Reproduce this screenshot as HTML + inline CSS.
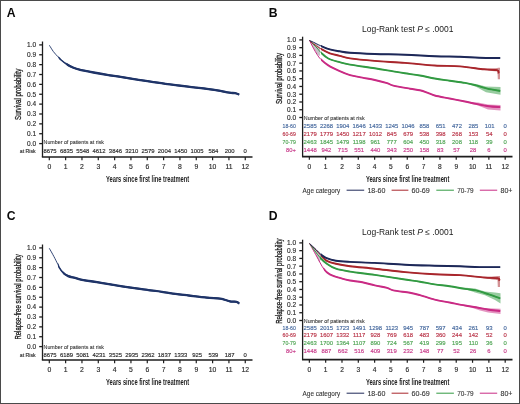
<!DOCTYPE html><html><head><meta charset="utf-8"><style>html,body{margin:0;padding:0;background:#fff;}svg{display:block;will-change:transform;}</style></head><body>
<svg width="520" height="404" viewBox="0 0 520 404" font-family='&quot;Liberation Sans&quot;, sans-serif'>
<rect x="0" y="0" width="520" height="404" fill="#fff"/>
<text x="6.80" y="16.90" font-size="12.20" fill="#0a0a0a" font-weight="bold">A</text>
<line x1="42.50" y1="41.50" x2="42.50" y2="157.00" stroke="#1e1e1e" stroke-width="1.3"/>
<line x1="41.85" y1="157.00" x2="252.50" y2="157.00" stroke="#1e1e1e" stroke-width="1.7"/>
<line x1="39.20" y1="44.90" x2="42.50" y2="44.90" stroke="#1e1e1e" stroke-width="1.3"/>
<text x="36.10" y="47.23" font-size="6.50" fill="#2a2a2a" stroke="#2a2a2a" stroke-width="0.15" text-anchor="end">1.0</text>
<line x1="39.20" y1="54.77" x2="42.50" y2="54.77" stroke="#1e1e1e" stroke-width="1.3"/>
<text x="36.10" y="57.10" font-size="6.50" fill="#2a2a2a" stroke="#2a2a2a" stroke-width="0.15" text-anchor="end">0.9</text>
<line x1="39.20" y1="64.64" x2="42.50" y2="64.64" stroke="#1e1e1e" stroke-width="1.3"/>
<text x="36.10" y="66.97" font-size="6.50" fill="#2a2a2a" stroke="#2a2a2a" stroke-width="0.15" text-anchor="end">0.8</text>
<line x1="39.20" y1="74.51" x2="42.50" y2="74.51" stroke="#1e1e1e" stroke-width="1.3"/>
<text x="36.10" y="76.84" font-size="6.50" fill="#2a2a2a" stroke="#2a2a2a" stroke-width="0.15" text-anchor="end">0.7</text>
<line x1="39.20" y1="84.38" x2="42.50" y2="84.38" stroke="#1e1e1e" stroke-width="1.3"/>
<text x="36.10" y="86.71" font-size="6.50" fill="#2a2a2a" stroke="#2a2a2a" stroke-width="0.15" text-anchor="end">0.6</text>
<line x1="39.20" y1="94.25" x2="42.50" y2="94.25" stroke="#1e1e1e" stroke-width="1.3"/>
<text x="36.10" y="96.58" font-size="6.50" fill="#2a2a2a" stroke="#2a2a2a" stroke-width="0.15" text-anchor="end">0.5</text>
<line x1="39.20" y1="104.12" x2="42.50" y2="104.12" stroke="#1e1e1e" stroke-width="1.3"/>
<text x="36.10" y="106.45" font-size="6.50" fill="#2a2a2a" stroke="#2a2a2a" stroke-width="0.15" text-anchor="end">0.4</text>
<line x1="39.20" y1="113.99" x2="42.50" y2="113.99" stroke="#1e1e1e" stroke-width="1.3"/>
<text x="36.10" y="116.32" font-size="6.50" fill="#2a2a2a" stroke="#2a2a2a" stroke-width="0.15" text-anchor="end">0.3</text>
<line x1="39.20" y1="123.86" x2="42.50" y2="123.86" stroke="#1e1e1e" stroke-width="1.3"/>
<text x="36.10" y="126.19" font-size="6.50" fill="#2a2a2a" stroke="#2a2a2a" stroke-width="0.15" text-anchor="end">0.2</text>
<line x1="39.20" y1="133.73" x2="42.50" y2="133.73" stroke="#1e1e1e" stroke-width="1.3"/>
<text x="36.10" y="136.06" font-size="6.50" fill="#2a2a2a" stroke="#2a2a2a" stroke-width="0.15" text-anchor="end">0.1</text>
<line x1="39.20" y1="143.60" x2="42.50" y2="143.60" stroke="#1e1e1e" stroke-width="1.3"/>
<text x="36.10" y="145.93" font-size="6.50" fill="#2a2a2a" stroke="#2a2a2a" stroke-width="0.15" text-anchor="end">0.0</text>
<line x1="49.30" y1="157.00" x2="49.30" y2="160.20" stroke="#1e1e1e" stroke-width="1.2"/>
<text x="49.30" y="168.73" font-size="6.80" fill="#2a2a2a" stroke="#2a2a2a" stroke-width="0.15" text-anchor="middle">0</text>
<line x1="65.63" y1="157.00" x2="65.63" y2="160.20" stroke="#1e1e1e" stroke-width="1.2"/>
<text x="65.63" y="168.73" font-size="6.80" fill="#2a2a2a" stroke="#2a2a2a" stroke-width="0.15" text-anchor="middle">1</text>
<line x1="81.96" y1="157.00" x2="81.96" y2="160.20" stroke="#1e1e1e" stroke-width="1.2"/>
<text x="81.96" y="168.73" font-size="6.80" fill="#2a2a2a" stroke="#2a2a2a" stroke-width="0.15" text-anchor="middle">2</text>
<line x1="98.29" y1="157.00" x2="98.29" y2="160.20" stroke="#1e1e1e" stroke-width="1.2"/>
<text x="98.29" y="168.73" font-size="6.80" fill="#2a2a2a" stroke="#2a2a2a" stroke-width="0.15" text-anchor="middle">3</text>
<line x1="114.62" y1="157.00" x2="114.62" y2="160.20" stroke="#1e1e1e" stroke-width="1.2"/>
<text x="114.62" y="168.73" font-size="6.80" fill="#2a2a2a" stroke="#2a2a2a" stroke-width="0.15" text-anchor="middle">4</text>
<line x1="130.95" y1="157.00" x2="130.95" y2="160.20" stroke="#1e1e1e" stroke-width="1.2"/>
<text x="130.95" y="168.73" font-size="6.80" fill="#2a2a2a" stroke="#2a2a2a" stroke-width="0.15" text-anchor="middle">5</text>
<line x1="147.28" y1="157.00" x2="147.28" y2="160.20" stroke="#1e1e1e" stroke-width="1.2"/>
<text x="147.28" y="168.73" font-size="6.80" fill="#2a2a2a" stroke="#2a2a2a" stroke-width="0.15" text-anchor="middle">6</text>
<line x1="163.61" y1="157.00" x2="163.61" y2="160.20" stroke="#1e1e1e" stroke-width="1.2"/>
<text x="163.61" y="168.73" font-size="6.80" fill="#2a2a2a" stroke="#2a2a2a" stroke-width="0.15" text-anchor="middle">7</text>
<line x1="179.94" y1="157.00" x2="179.94" y2="160.20" stroke="#1e1e1e" stroke-width="1.2"/>
<text x="179.94" y="168.73" font-size="6.80" fill="#2a2a2a" stroke="#2a2a2a" stroke-width="0.15" text-anchor="middle">8</text>
<line x1="196.27" y1="157.00" x2="196.27" y2="160.20" stroke="#1e1e1e" stroke-width="1.2"/>
<text x="196.27" y="168.73" font-size="6.80" fill="#2a2a2a" stroke="#2a2a2a" stroke-width="0.15" text-anchor="middle">9</text>
<line x1="212.60" y1="157.00" x2="212.60" y2="160.20" stroke="#1e1e1e" stroke-width="1.2"/>
<text x="212.60" y="168.73" font-size="6.80" fill="#2a2a2a" stroke="#2a2a2a" stroke-width="0.15" text-anchor="middle">10</text>
<line x1="228.93" y1="157.00" x2="228.93" y2="160.20" stroke="#1e1e1e" stroke-width="1.2"/>
<text x="228.93" y="168.73" font-size="6.80" fill="#2a2a2a" stroke="#2a2a2a" stroke-width="0.15" text-anchor="middle">11</text>
<line x1="245.26" y1="157.00" x2="245.26" y2="160.20" stroke="#1e1e1e" stroke-width="1.2"/>
<text x="245.26" y="168.73" font-size="6.80" fill="#2a2a2a" stroke="#2a2a2a" stroke-width="0.15" text-anchor="middle">12</text>
<text x="106.00" y="181.50" font-size="9.10" fill="#222" font-weight="bold" textLength="83.20" lengthAdjust="spacingAndGlyphs">Years since first line treatment</text>
<text transform="translate(21.40,119.90) rotate(-90)" font-size="9.2" fill="#1a1a1a" stroke="#1a1a1a" stroke-width="0.3" textLength="51.20" lengthAdjust="spacingAndGlyphs">Survival probability</text>
<text x="43.60" y="144.00" font-size="6.00" fill="#333" stroke="#333" stroke-width="0.10" textLength="60.40" lengthAdjust="spacingAndGlyphs">Number of patients at risk</text>
<text x="35.70" y="152.70" font-size="5.60" fill="#2a2a2a" stroke="#2a2a2a" stroke-width="0.15" text-anchor="end" textLength="15.90" lengthAdjust="spacingAndGlyphs">at Risk</text>
<text x="50.10" y="152.70" font-size="5.90" fill="#2a2a2a" stroke="#2a2a2a" stroke-width="0.15" text-anchor="middle">8675</text>
<text x="66.43" y="152.70" font-size="5.90" fill="#2a2a2a" stroke="#2a2a2a" stroke-width="0.15" text-anchor="middle">6835</text>
<text x="82.76" y="152.70" font-size="5.90" fill="#2a2a2a" stroke="#2a2a2a" stroke-width="0.15" text-anchor="middle">5548</text>
<text x="99.09" y="152.70" font-size="5.90" fill="#2a2a2a" stroke="#2a2a2a" stroke-width="0.15" text-anchor="middle">4612</text>
<text x="115.42" y="152.70" font-size="5.90" fill="#2a2a2a" stroke="#2a2a2a" stroke-width="0.15" text-anchor="middle">3846</text>
<text x="131.75" y="152.70" font-size="5.90" fill="#2a2a2a" stroke="#2a2a2a" stroke-width="0.15" text-anchor="middle">3210</text>
<text x="148.08" y="152.70" font-size="5.90" fill="#2a2a2a" stroke="#2a2a2a" stroke-width="0.15" text-anchor="middle">2579</text>
<text x="164.41" y="152.70" font-size="5.90" fill="#2a2a2a" stroke="#2a2a2a" stroke-width="0.15" text-anchor="middle">2004</text>
<text x="180.74" y="152.70" font-size="5.90" fill="#2a2a2a" stroke="#2a2a2a" stroke-width="0.15" text-anchor="middle">1450</text>
<text x="197.07" y="152.70" font-size="5.90" fill="#2a2a2a" stroke="#2a2a2a" stroke-width="0.15" text-anchor="middle">1005</text>
<text x="213.40" y="152.70" font-size="5.90" fill="#2a2a2a" stroke="#2a2a2a" stroke-width="0.15" text-anchor="middle">584</text>
<text x="229.73" y="152.70" font-size="5.90" fill="#2a2a2a" stroke="#2a2a2a" stroke-width="0.15" text-anchor="middle">200</text>
<text x="245.26" y="152.70" font-size="5.90" fill="#2a2a2a" stroke="#2a2a2a" stroke-width="0.15" text-anchor="middle">0</text>
<clipPath id="c1"><rect x="66.70" y="0" width="520" height="404"/></clipPath>
<path d="M49.40,45.30 C50.07,46.35 51.98,49.70 53.40,51.60 C54.82,53.50 56.62,55.30 57.90,56.70 C59.18,58.10 59.63,58.75 61.10,60.00 C62.57,61.25 64.63,62.90 66.70,64.20 C68.77,65.50 71.25,66.87 73.50,67.80 C75.75,68.73 76.85,69.02 80.20,69.80 C83.55,70.58 89.12,71.65 93.60,72.50 C98.08,73.35 102.60,74.17 107.10,74.90 C111.60,75.63 115.37,76.08 120.60,76.90 C125.83,77.72 133.28,78.98 138.50,79.80 C143.72,80.62 147.42,81.13 151.90,81.80 C156.38,82.47 160.92,83.18 165.40,83.80 C169.88,84.42 174.12,84.92 178.80,85.50 C183.48,86.08 188.82,86.73 193.50,87.30 C198.18,87.87 202.42,88.30 206.90,88.90 C211.38,89.50 217.03,90.33 220.40,90.90 C223.77,91.47 225.32,91.97 227.10,92.30 C228.88,92.63 229.75,92.75 231.10,92.90 C232.45,93.05 233.85,92.93 235.20,93.20 C236.55,93.47 238.53,94.28 239.20,94.50" fill="none" stroke="#1f3468" stroke-width="0.90" stroke-linejoin="round"/>
<clipPath id="c2"><rect x="58.50" y="0" width="520" height="404"/></clipPath>
<path d="M49.40,45.30 C50.07,46.35 51.98,49.70 53.40,51.60 C54.82,53.50 56.62,55.30 57.90,56.70 C59.18,58.10 59.63,58.75 61.10,60.00 C62.57,61.25 64.63,62.90 66.70,64.20 C68.77,65.50 71.25,66.87 73.50,67.80 C75.75,68.73 76.85,69.02 80.20,69.80 C83.55,70.58 89.12,71.65 93.60,72.50 C98.08,73.35 102.60,74.17 107.10,74.90 C111.60,75.63 115.37,76.08 120.60,76.90 C125.83,77.72 133.28,78.98 138.50,79.80 C143.72,80.62 147.42,81.13 151.90,81.80 C156.38,82.47 160.92,83.18 165.40,83.80 C169.88,84.42 174.12,84.92 178.80,85.50 C183.48,86.08 188.82,86.73 193.50,87.30 C198.18,87.87 202.42,88.30 206.90,88.90 C211.38,89.50 217.03,90.33 220.40,90.90 C223.77,91.47 225.32,91.97 227.10,92.30 C228.88,92.63 229.75,92.75 231.10,92.90 C232.45,93.05 233.85,92.93 235.20,93.20 C236.55,93.47 238.53,94.28 239.20,94.50" fill="none" stroke="#1f3468" stroke-width="1.60" stroke-linejoin="round" clip-path="url(#c2)"/>
<path d="M49.40,45.30 C50.07,46.35 51.98,49.70 53.40,51.60 C54.82,53.50 56.62,55.30 57.90,56.70 C59.18,58.10 59.63,58.75 61.10,60.00 C62.57,61.25 64.63,62.90 66.70,64.20 C68.77,65.50 71.25,66.87 73.50,67.80 C75.75,68.73 76.85,69.02 80.20,69.80 C83.55,70.58 89.12,71.65 93.60,72.50 C98.08,73.35 102.60,74.17 107.10,74.90 C111.60,75.63 115.37,76.08 120.60,76.90 C125.83,77.72 133.28,78.98 138.50,79.80 C143.72,80.62 147.42,81.13 151.90,81.80 C156.38,82.47 160.92,83.18 165.40,83.80 C169.88,84.42 174.12,84.92 178.80,85.50 C183.48,86.08 188.82,86.73 193.50,87.30 C198.18,87.87 202.42,88.30 206.90,88.90 C211.38,89.50 217.03,90.33 220.40,90.90 C223.77,91.47 225.32,91.97 227.10,92.30 C228.88,92.63 229.75,92.75 231.10,92.90 C232.45,93.05 233.85,92.93 235.20,93.20 C236.55,93.47 238.53,94.28 239.20,94.50" fill="none" stroke="#1f3468" stroke-width="2.30" stroke-linejoin="round" clip-path="url(#c1)"/>
<text x="6.80" y="219.90" font-size="12.20" fill="#0a0a0a" font-weight="bold">C</text>
<line x1="42.50" y1="244.50" x2="42.50" y2="360.00" stroke="#1e1e1e" stroke-width="1.3"/>
<line x1="41.85" y1="360.00" x2="252.50" y2="360.00" stroke="#1e1e1e" stroke-width="1.7"/>
<line x1="39.20" y1="247.90" x2="42.50" y2="247.90" stroke="#1e1e1e" stroke-width="1.3"/>
<text x="36.10" y="250.23" font-size="6.50" fill="#2a2a2a" stroke="#2a2a2a" stroke-width="0.15" text-anchor="end">1.0</text>
<line x1="39.20" y1="257.77" x2="42.50" y2="257.77" stroke="#1e1e1e" stroke-width="1.3"/>
<text x="36.10" y="260.10" font-size="6.50" fill="#2a2a2a" stroke="#2a2a2a" stroke-width="0.15" text-anchor="end">0.9</text>
<line x1="39.20" y1="267.64" x2="42.50" y2="267.64" stroke="#1e1e1e" stroke-width="1.3"/>
<text x="36.10" y="269.97" font-size="6.50" fill="#2a2a2a" stroke="#2a2a2a" stroke-width="0.15" text-anchor="end">0.8</text>
<line x1="39.20" y1="277.51" x2="42.50" y2="277.51" stroke="#1e1e1e" stroke-width="1.3"/>
<text x="36.10" y="279.84" font-size="6.50" fill="#2a2a2a" stroke="#2a2a2a" stroke-width="0.15" text-anchor="end">0.7</text>
<line x1="39.20" y1="287.38" x2="42.50" y2="287.38" stroke="#1e1e1e" stroke-width="1.3"/>
<text x="36.10" y="289.71" font-size="6.50" fill="#2a2a2a" stroke="#2a2a2a" stroke-width="0.15" text-anchor="end">0.6</text>
<line x1="39.20" y1="297.25" x2="42.50" y2="297.25" stroke="#1e1e1e" stroke-width="1.3"/>
<text x="36.10" y="299.58" font-size="6.50" fill="#2a2a2a" stroke="#2a2a2a" stroke-width="0.15" text-anchor="end">0.5</text>
<line x1="39.20" y1="307.12" x2="42.50" y2="307.12" stroke="#1e1e1e" stroke-width="1.3"/>
<text x="36.10" y="309.45" font-size="6.50" fill="#2a2a2a" stroke="#2a2a2a" stroke-width="0.15" text-anchor="end">0.4</text>
<line x1="39.20" y1="316.99" x2="42.50" y2="316.99" stroke="#1e1e1e" stroke-width="1.3"/>
<text x="36.10" y="319.32" font-size="6.50" fill="#2a2a2a" stroke="#2a2a2a" stroke-width="0.15" text-anchor="end">0.3</text>
<line x1="39.20" y1="326.86" x2="42.50" y2="326.86" stroke="#1e1e1e" stroke-width="1.3"/>
<text x="36.10" y="329.19" font-size="6.50" fill="#2a2a2a" stroke="#2a2a2a" stroke-width="0.15" text-anchor="end">0.2</text>
<line x1="39.20" y1="336.73" x2="42.50" y2="336.73" stroke="#1e1e1e" stroke-width="1.3"/>
<text x="36.10" y="339.06" font-size="6.50" fill="#2a2a2a" stroke="#2a2a2a" stroke-width="0.15" text-anchor="end">0.1</text>
<line x1="39.20" y1="346.60" x2="42.50" y2="346.60" stroke="#1e1e1e" stroke-width="1.3"/>
<text x="36.10" y="348.93" font-size="6.50" fill="#2a2a2a" stroke="#2a2a2a" stroke-width="0.15" text-anchor="end">0.0</text>
<line x1="49.30" y1="360.00" x2="49.30" y2="363.20" stroke="#1e1e1e" stroke-width="1.2"/>
<text x="49.30" y="372.23" font-size="6.80" fill="#2a2a2a" stroke="#2a2a2a" stroke-width="0.15" text-anchor="middle">0</text>
<line x1="65.63" y1="360.00" x2="65.63" y2="363.20" stroke="#1e1e1e" stroke-width="1.2"/>
<text x="65.63" y="372.23" font-size="6.80" fill="#2a2a2a" stroke="#2a2a2a" stroke-width="0.15" text-anchor="middle">1</text>
<line x1="81.96" y1="360.00" x2="81.96" y2="363.20" stroke="#1e1e1e" stroke-width="1.2"/>
<text x="81.96" y="372.23" font-size="6.80" fill="#2a2a2a" stroke="#2a2a2a" stroke-width="0.15" text-anchor="middle">2</text>
<line x1="98.29" y1="360.00" x2="98.29" y2="363.20" stroke="#1e1e1e" stroke-width="1.2"/>
<text x="98.29" y="372.23" font-size="6.80" fill="#2a2a2a" stroke="#2a2a2a" stroke-width="0.15" text-anchor="middle">3</text>
<line x1="114.62" y1="360.00" x2="114.62" y2="363.20" stroke="#1e1e1e" stroke-width="1.2"/>
<text x="114.62" y="372.23" font-size="6.80" fill="#2a2a2a" stroke="#2a2a2a" stroke-width="0.15" text-anchor="middle">4</text>
<line x1="130.95" y1="360.00" x2="130.95" y2="363.20" stroke="#1e1e1e" stroke-width="1.2"/>
<text x="130.95" y="372.23" font-size="6.80" fill="#2a2a2a" stroke="#2a2a2a" stroke-width="0.15" text-anchor="middle">5</text>
<line x1="147.28" y1="360.00" x2="147.28" y2="363.20" stroke="#1e1e1e" stroke-width="1.2"/>
<text x="147.28" y="372.23" font-size="6.80" fill="#2a2a2a" stroke="#2a2a2a" stroke-width="0.15" text-anchor="middle">6</text>
<line x1="163.61" y1="360.00" x2="163.61" y2="363.20" stroke="#1e1e1e" stroke-width="1.2"/>
<text x="163.61" y="372.23" font-size="6.80" fill="#2a2a2a" stroke="#2a2a2a" stroke-width="0.15" text-anchor="middle">7</text>
<line x1="179.94" y1="360.00" x2="179.94" y2="363.20" stroke="#1e1e1e" stroke-width="1.2"/>
<text x="179.94" y="372.23" font-size="6.80" fill="#2a2a2a" stroke="#2a2a2a" stroke-width="0.15" text-anchor="middle">8</text>
<line x1="196.27" y1="360.00" x2="196.27" y2="363.20" stroke="#1e1e1e" stroke-width="1.2"/>
<text x="196.27" y="372.23" font-size="6.80" fill="#2a2a2a" stroke="#2a2a2a" stroke-width="0.15" text-anchor="middle">9</text>
<line x1="212.60" y1="360.00" x2="212.60" y2="363.20" stroke="#1e1e1e" stroke-width="1.2"/>
<text x="212.60" y="372.23" font-size="6.80" fill="#2a2a2a" stroke="#2a2a2a" stroke-width="0.15" text-anchor="middle">10</text>
<line x1="228.93" y1="360.00" x2="228.93" y2="363.20" stroke="#1e1e1e" stroke-width="1.2"/>
<text x="228.93" y="372.23" font-size="6.80" fill="#2a2a2a" stroke="#2a2a2a" stroke-width="0.15" text-anchor="middle">11</text>
<line x1="245.26" y1="360.00" x2="245.26" y2="363.20" stroke="#1e1e1e" stroke-width="1.2"/>
<text x="245.26" y="372.23" font-size="6.80" fill="#2a2a2a" stroke="#2a2a2a" stroke-width="0.15" text-anchor="middle">12</text>
<text x="106.00" y="384.50" font-size="9.10" fill="#222" font-weight="bold" textLength="83.20" lengthAdjust="spacingAndGlyphs">Years since first line treatment</text>
<text transform="translate(21.40,339.60) rotate(-90)" font-size="9.2" fill="#1a1a1a" stroke="#1a1a1a" stroke-width="0.3" textLength="85.30" lengthAdjust="spacingAndGlyphs">Relapse-free survival probability</text>
<text x="43.60" y="348.80" font-size="6.00" fill="#333" stroke="#333" stroke-width="0.10" textLength="60.40" lengthAdjust="spacingAndGlyphs">Number of patients at risk</text>
<text x="35.70" y="356.50" font-size="5.60" fill="#2a2a2a" stroke="#2a2a2a" stroke-width="0.15" text-anchor="end" textLength="15.90" lengthAdjust="spacingAndGlyphs">at Risk</text>
<text x="50.10" y="356.50" font-size="5.90" fill="#2a2a2a" stroke="#2a2a2a" stroke-width="0.15" text-anchor="middle">8675</text>
<text x="66.43" y="356.50" font-size="5.90" fill="#2a2a2a" stroke="#2a2a2a" stroke-width="0.15" text-anchor="middle">6189</text>
<text x="82.76" y="356.50" font-size="5.90" fill="#2a2a2a" stroke="#2a2a2a" stroke-width="0.15" text-anchor="middle">5081</text>
<text x="99.09" y="356.50" font-size="5.90" fill="#2a2a2a" stroke="#2a2a2a" stroke-width="0.15" text-anchor="middle">4231</text>
<text x="115.42" y="356.50" font-size="5.90" fill="#2a2a2a" stroke="#2a2a2a" stroke-width="0.15" text-anchor="middle">3525</text>
<text x="131.75" y="356.50" font-size="5.90" fill="#2a2a2a" stroke="#2a2a2a" stroke-width="0.15" text-anchor="middle">2935</text>
<text x="148.08" y="356.50" font-size="5.90" fill="#2a2a2a" stroke="#2a2a2a" stroke-width="0.15" text-anchor="middle">2362</text>
<text x="164.41" y="356.50" font-size="5.90" fill="#2a2a2a" stroke="#2a2a2a" stroke-width="0.15" text-anchor="middle">1837</text>
<text x="180.74" y="356.50" font-size="5.90" fill="#2a2a2a" stroke="#2a2a2a" stroke-width="0.15" text-anchor="middle">1333</text>
<text x="197.07" y="356.50" font-size="5.90" fill="#2a2a2a" stroke="#2a2a2a" stroke-width="0.15" text-anchor="middle">925</text>
<text x="213.40" y="356.50" font-size="5.90" fill="#2a2a2a" stroke="#2a2a2a" stroke-width="0.15" text-anchor="middle">539</text>
<text x="229.73" y="356.50" font-size="5.90" fill="#2a2a2a" stroke="#2a2a2a" stroke-width="0.15" text-anchor="middle">187</text>
<text x="245.26" y="356.50" font-size="5.90" fill="#2a2a2a" stroke="#2a2a2a" stroke-width="0.15" text-anchor="middle">0</text>
<clipPath id="c3"><rect x="62.80" y="0" width="520" height="404"/></clipPath>
<path d="M49.30,248.30 C50.07,249.67 52.47,253.80 53.90,256.50 C55.33,259.20 57.00,262.65 57.90,264.50 C58.80,266.35 58.48,266.27 59.30,267.60 C60.12,268.93 61.32,271.08 62.80,272.50 C64.28,273.92 66.17,275.20 68.20,276.10 C70.23,277.00 72.45,277.23 75.00,277.90 C77.55,278.57 79.85,279.40 83.50,280.10 C87.15,280.80 92.42,281.38 96.90,282.10 C101.38,282.82 105.92,283.65 110.40,284.40 C114.88,285.15 118.87,285.85 123.80,286.60 C128.73,287.35 135.88,288.32 140.00,288.90 C144.12,289.48 144.85,289.62 148.50,290.10 C152.15,290.58 157.42,291.17 161.90,291.80 C166.38,292.43 170.92,293.28 175.40,293.90 C179.88,294.52 183.55,294.88 188.80,295.50 C194.05,296.12 201.63,297.07 206.90,297.60 C212.17,298.13 217.03,298.22 220.40,298.70 C223.77,299.18 225.32,300.02 227.10,300.50 C228.88,300.98 229.53,301.38 231.10,301.60 C232.67,301.82 235.15,301.47 236.50,301.80 C237.85,302.13 238.75,303.30 239.20,303.60" fill="none" stroke="#1f3468" stroke-width="0.90" stroke-linejoin="round"/>
<clipPath id="c4"><rect x="58.00" y="0" width="520" height="404"/></clipPath>
<path d="M49.30,248.30 C50.07,249.67 52.47,253.80 53.90,256.50 C55.33,259.20 57.00,262.65 57.90,264.50 C58.80,266.35 58.48,266.27 59.30,267.60 C60.12,268.93 61.32,271.08 62.80,272.50 C64.28,273.92 66.17,275.20 68.20,276.10 C70.23,277.00 72.45,277.23 75.00,277.90 C77.55,278.57 79.85,279.40 83.50,280.10 C87.15,280.80 92.42,281.38 96.90,282.10 C101.38,282.82 105.92,283.65 110.40,284.40 C114.88,285.15 118.87,285.85 123.80,286.60 C128.73,287.35 135.88,288.32 140.00,288.90 C144.12,289.48 144.85,289.62 148.50,290.10 C152.15,290.58 157.42,291.17 161.90,291.80 C166.38,292.43 170.92,293.28 175.40,293.90 C179.88,294.52 183.55,294.88 188.80,295.50 C194.05,296.12 201.63,297.07 206.90,297.60 C212.17,298.13 217.03,298.22 220.40,298.70 C223.77,299.18 225.32,300.02 227.10,300.50 C228.88,300.98 229.53,301.38 231.10,301.60 C232.67,301.82 235.15,301.47 236.50,301.80 C237.85,302.13 238.75,303.30 239.20,303.60" fill="none" stroke="#1f3468" stroke-width="1.60" stroke-linejoin="round" clip-path="url(#c4)"/>
<path d="M49.30,248.30 C50.07,249.67 52.47,253.80 53.90,256.50 C55.33,259.20 57.00,262.65 57.90,264.50 C58.80,266.35 58.48,266.27 59.30,267.60 C60.12,268.93 61.32,271.08 62.80,272.50 C64.28,273.92 66.17,275.20 68.20,276.10 C70.23,277.00 72.45,277.23 75.00,277.90 C77.55,278.57 79.85,279.40 83.50,280.10 C87.15,280.80 92.42,281.38 96.90,282.10 C101.38,282.82 105.92,283.65 110.40,284.40 C114.88,285.15 118.87,285.85 123.80,286.60 C128.73,287.35 135.88,288.32 140.00,288.90 C144.12,289.48 144.85,289.62 148.50,290.10 C152.15,290.58 157.42,291.17 161.90,291.80 C166.38,292.43 170.92,293.28 175.40,293.90 C179.88,294.52 183.55,294.88 188.80,295.50 C194.05,296.12 201.63,297.07 206.90,297.60 C212.17,298.13 217.03,298.22 220.40,298.70 C223.77,299.18 225.32,300.02 227.10,300.50 C228.88,300.98 229.53,301.38 231.10,301.60 C232.67,301.82 235.15,301.47 236.50,301.80 C237.85,302.13 238.75,303.30 239.20,303.60" fill="none" stroke="#1f3468" stroke-width="2.30" stroke-linejoin="round" clip-path="url(#c3)"/>
<text x="268.80" y="16.90" font-size="12.20" fill="#0a0a0a" font-weight="bold">B</text>
<line x1="302.60" y1="36.70" x2="302.60" y2="156.60" stroke="#1e1e1e" stroke-width="1.3"/>
<line x1="301.95" y1="156.60" x2="512.50" y2="156.60" stroke="#1e1e1e" stroke-width="1.7"/>
<line x1="299.30" y1="39.90" x2="302.60" y2="39.90" stroke="#1e1e1e" stroke-width="1.3"/>
<text x="296.10" y="42.23" font-size="6.50" fill="#2a2a2a" stroke="#2a2a2a" stroke-width="0.15" text-anchor="end">1.0</text>
<line x1="299.30" y1="47.66" x2="302.60" y2="47.66" stroke="#1e1e1e" stroke-width="1.3"/>
<text x="296.10" y="49.99" font-size="6.50" fill="#2a2a2a" stroke="#2a2a2a" stroke-width="0.15" text-anchor="end">0.9</text>
<line x1="299.30" y1="55.42" x2="302.60" y2="55.42" stroke="#1e1e1e" stroke-width="1.3"/>
<text x="296.10" y="57.75" font-size="6.50" fill="#2a2a2a" stroke="#2a2a2a" stroke-width="0.15" text-anchor="end">0.8</text>
<line x1="299.30" y1="63.18" x2="302.60" y2="63.18" stroke="#1e1e1e" stroke-width="1.3"/>
<text x="296.10" y="65.51" font-size="6.50" fill="#2a2a2a" stroke="#2a2a2a" stroke-width="0.15" text-anchor="end">0.7</text>
<line x1="299.30" y1="70.94" x2="302.60" y2="70.94" stroke="#1e1e1e" stroke-width="1.3"/>
<text x="296.10" y="73.27" font-size="6.50" fill="#2a2a2a" stroke="#2a2a2a" stroke-width="0.15" text-anchor="end">0.6</text>
<line x1="299.30" y1="78.70" x2="302.60" y2="78.70" stroke="#1e1e1e" stroke-width="1.3"/>
<text x="296.10" y="81.03" font-size="6.50" fill="#2a2a2a" stroke="#2a2a2a" stroke-width="0.15" text-anchor="end">0.5</text>
<line x1="299.30" y1="86.46" x2="302.60" y2="86.46" stroke="#1e1e1e" stroke-width="1.3"/>
<text x="296.10" y="88.79" font-size="6.50" fill="#2a2a2a" stroke="#2a2a2a" stroke-width="0.15" text-anchor="end">0.4</text>
<line x1="299.30" y1="94.22" x2="302.60" y2="94.22" stroke="#1e1e1e" stroke-width="1.3"/>
<text x="296.10" y="96.55" font-size="6.50" fill="#2a2a2a" stroke="#2a2a2a" stroke-width="0.15" text-anchor="end">0.3</text>
<line x1="299.30" y1="101.98" x2="302.60" y2="101.98" stroke="#1e1e1e" stroke-width="1.3"/>
<text x="296.10" y="104.31" font-size="6.50" fill="#2a2a2a" stroke="#2a2a2a" stroke-width="0.15" text-anchor="end">0.2</text>
<line x1="299.30" y1="109.74" x2="302.60" y2="109.74" stroke="#1e1e1e" stroke-width="1.3"/>
<text x="296.10" y="112.07" font-size="6.50" fill="#2a2a2a" stroke="#2a2a2a" stroke-width="0.15" text-anchor="end">0.1</text>
<line x1="299.30" y1="117.50" x2="302.60" y2="117.50" stroke="#1e1e1e" stroke-width="1.3"/>
<text x="296.10" y="119.83" font-size="6.50" fill="#2a2a2a" stroke="#2a2a2a" stroke-width="0.15" text-anchor="end">0.0</text>
<line x1="309.35" y1="156.60" x2="309.35" y2="159.80" stroke="#1e1e1e" stroke-width="1.2"/>
<text x="309.35" y="168.96" font-size="6.60" fill="#2a2a2a" stroke="#2a2a2a" stroke-width="0.15" text-anchor="middle">0</text>
<line x1="325.67" y1="156.60" x2="325.67" y2="159.80" stroke="#1e1e1e" stroke-width="1.2"/>
<text x="325.67" y="168.96" font-size="6.60" fill="#2a2a2a" stroke="#2a2a2a" stroke-width="0.15" text-anchor="middle">1</text>
<line x1="341.99" y1="156.60" x2="341.99" y2="159.80" stroke="#1e1e1e" stroke-width="1.2"/>
<text x="341.99" y="168.96" font-size="6.60" fill="#2a2a2a" stroke="#2a2a2a" stroke-width="0.15" text-anchor="middle">2</text>
<line x1="358.31" y1="156.60" x2="358.31" y2="159.80" stroke="#1e1e1e" stroke-width="1.2"/>
<text x="358.31" y="168.96" font-size="6.60" fill="#2a2a2a" stroke="#2a2a2a" stroke-width="0.15" text-anchor="middle">3</text>
<line x1="374.63" y1="156.60" x2="374.63" y2="159.80" stroke="#1e1e1e" stroke-width="1.2"/>
<text x="374.63" y="168.96" font-size="6.60" fill="#2a2a2a" stroke="#2a2a2a" stroke-width="0.15" text-anchor="middle">4</text>
<line x1="390.95" y1="156.60" x2="390.95" y2="159.80" stroke="#1e1e1e" stroke-width="1.2"/>
<text x="390.95" y="168.96" font-size="6.60" fill="#2a2a2a" stroke="#2a2a2a" stroke-width="0.15" text-anchor="middle">5</text>
<line x1="407.27" y1="156.60" x2="407.27" y2="159.80" stroke="#1e1e1e" stroke-width="1.2"/>
<text x="407.27" y="168.96" font-size="6.60" fill="#2a2a2a" stroke="#2a2a2a" stroke-width="0.15" text-anchor="middle">6</text>
<line x1="423.59" y1="156.60" x2="423.59" y2="159.80" stroke="#1e1e1e" stroke-width="1.2"/>
<text x="423.59" y="168.96" font-size="6.60" fill="#2a2a2a" stroke="#2a2a2a" stroke-width="0.15" text-anchor="middle">7</text>
<line x1="439.91" y1="156.60" x2="439.91" y2="159.80" stroke="#1e1e1e" stroke-width="1.2"/>
<text x="439.91" y="168.96" font-size="6.60" fill="#2a2a2a" stroke="#2a2a2a" stroke-width="0.15" text-anchor="middle">8</text>
<line x1="456.23" y1="156.60" x2="456.23" y2="159.80" stroke="#1e1e1e" stroke-width="1.2"/>
<text x="456.23" y="168.96" font-size="6.60" fill="#2a2a2a" stroke="#2a2a2a" stroke-width="0.15" text-anchor="middle">9</text>
<line x1="472.55" y1="156.60" x2="472.55" y2="159.80" stroke="#1e1e1e" stroke-width="1.2"/>
<text x="472.55" y="168.96" font-size="6.60" fill="#2a2a2a" stroke="#2a2a2a" stroke-width="0.15" text-anchor="middle">10</text>
<line x1="488.87" y1="156.60" x2="488.87" y2="159.80" stroke="#1e1e1e" stroke-width="1.2"/>
<text x="488.87" y="168.96" font-size="6.60" fill="#2a2a2a" stroke="#2a2a2a" stroke-width="0.15" text-anchor="middle">11</text>
<line x1="505.19" y1="156.60" x2="505.19" y2="159.80" stroke="#1e1e1e" stroke-width="1.2"/>
<text x="505.19" y="168.96" font-size="6.60" fill="#2a2a2a" stroke="#2a2a2a" stroke-width="0.15" text-anchor="middle">12</text>
<text x="365.90" y="181.60" font-size="9.10" fill="#222" font-weight="bold" textLength="83.40" lengthAdjust="spacingAndGlyphs">Years since first line treatment</text>
<text transform="translate(281.80,104.10) rotate(-90)" font-size="9.2" fill="#1a1a1a" stroke="#1a1a1a" stroke-width="0.3" textLength="51.10" lengthAdjust="spacingAndGlyphs">Survival probability</text>
<text x="303.80" y="120.30" font-size="6.00" fill="#333" stroke="#333" stroke-width="0.10" textLength="60.80" lengthAdjust="spacingAndGlyphs">Number of patients at risk</text>
<text x="295.80" y="128.30" font-size="6.00" fill="#46699e" stroke="#46699e" stroke-width="0.15" text-anchor="end" textLength="13.20" lengthAdjust="spacingAndGlyphs">18-60</text>
<text x="310.15" y="128.30" font-size="5.90" fill="#46699e" stroke="#46699e" stroke-width="0.15" text-anchor="middle">2585</text>
<text x="326.47" y="128.30" font-size="5.90" fill="#46699e" stroke="#46699e" stroke-width="0.15" text-anchor="middle">2268</text>
<text x="342.79" y="128.30" font-size="5.90" fill="#46699e" stroke="#46699e" stroke-width="0.15" text-anchor="middle">1904</text>
<text x="359.11" y="128.30" font-size="5.90" fill="#46699e" stroke="#46699e" stroke-width="0.15" text-anchor="middle">1646</text>
<text x="375.43" y="128.30" font-size="5.90" fill="#46699e" stroke="#46699e" stroke-width="0.15" text-anchor="middle">1433</text>
<text x="391.75" y="128.30" font-size="5.90" fill="#46699e" stroke="#46699e" stroke-width="0.15" text-anchor="middle">1245</text>
<text x="408.07" y="128.30" font-size="5.90" fill="#46699e" stroke="#46699e" stroke-width="0.15" text-anchor="middle">1046</text>
<text x="424.39" y="128.30" font-size="5.90" fill="#46699e" stroke="#46699e" stroke-width="0.15" text-anchor="middle">858</text>
<text x="440.71" y="128.30" font-size="5.90" fill="#46699e" stroke="#46699e" stroke-width="0.15" text-anchor="middle">651</text>
<text x="457.03" y="128.30" font-size="5.90" fill="#46699e" stroke="#46699e" stroke-width="0.15" text-anchor="middle">472</text>
<text x="473.35" y="128.30" font-size="5.90" fill="#46699e" stroke="#46699e" stroke-width="0.15" text-anchor="middle">285</text>
<text x="489.67" y="128.30" font-size="5.90" fill="#46699e" stroke="#46699e" stroke-width="0.15" text-anchor="middle">101</text>
<text x="505.19" y="128.30" font-size="5.90" fill="#46699e" stroke="#46699e" stroke-width="0.15" text-anchor="middle">0</text>
<text x="295.80" y="135.70" font-size="6.00" fill="#b93448" stroke="#b93448" stroke-width="0.15" text-anchor="end" textLength="13.20" lengthAdjust="spacingAndGlyphs">60-69</text>
<text x="310.15" y="135.70" font-size="5.90" fill="#b93448" stroke="#b93448" stroke-width="0.15" text-anchor="middle">2179</text>
<text x="326.47" y="135.70" font-size="5.90" fill="#b93448" stroke="#b93448" stroke-width="0.15" text-anchor="middle">1779</text>
<text x="342.79" y="135.70" font-size="5.90" fill="#b93448" stroke="#b93448" stroke-width="0.15" text-anchor="middle">1450</text>
<text x="359.11" y="135.70" font-size="5.90" fill="#b93448" stroke="#b93448" stroke-width="0.15" text-anchor="middle">1217</text>
<text x="375.43" y="135.70" font-size="5.90" fill="#b93448" stroke="#b93448" stroke-width="0.15" text-anchor="middle">1012</text>
<text x="391.75" y="135.70" font-size="5.90" fill="#b93448" stroke="#b93448" stroke-width="0.15" text-anchor="middle">845</text>
<text x="408.07" y="135.70" font-size="5.90" fill="#b93448" stroke="#b93448" stroke-width="0.15" text-anchor="middle">679</text>
<text x="424.39" y="135.70" font-size="5.90" fill="#b93448" stroke="#b93448" stroke-width="0.15" text-anchor="middle">538</text>
<text x="440.71" y="135.70" font-size="5.90" fill="#b93448" stroke="#b93448" stroke-width="0.15" text-anchor="middle">398</text>
<text x="457.03" y="135.70" font-size="5.90" fill="#b93448" stroke="#b93448" stroke-width="0.15" text-anchor="middle">268</text>
<text x="473.35" y="135.70" font-size="5.90" fill="#b93448" stroke="#b93448" stroke-width="0.15" text-anchor="middle">153</text>
<text x="489.27" y="135.70" font-size="5.90" fill="#b93448" stroke="#b93448" stroke-width="0.15" text-anchor="middle">54</text>
<text x="505.19" y="135.70" font-size="5.90" fill="#b93448" stroke="#b93448" stroke-width="0.15" text-anchor="middle">0</text>
<text x="295.80" y="143.50" font-size="6.00" fill="#50a555" stroke="#50a555" stroke-width="0.15" text-anchor="end" textLength="13.20" lengthAdjust="spacingAndGlyphs">70-79</text>
<text x="310.15" y="143.50" font-size="5.90" fill="#50a555" stroke="#50a555" stroke-width="0.15" text-anchor="middle">2463</text>
<text x="326.47" y="143.50" font-size="5.90" fill="#50a555" stroke="#50a555" stroke-width="0.15" text-anchor="middle">1845</text>
<text x="342.79" y="143.50" font-size="5.90" fill="#50a555" stroke="#50a555" stroke-width="0.15" text-anchor="middle">1479</text>
<text x="359.11" y="143.50" font-size="5.90" fill="#50a555" stroke="#50a555" stroke-width="0.15" text-anchor="middle">1198</text>
<text x="375.43" y="143.50" font-size="5.90" fill="#50a555" stroke="#50a555" stroke-width="0.15" text-anchor="middle">961</text>
<text x="391.75" y="143.50" font-size="5.90" fill="#50a555" stroke="#50a555" stroke-width="0.15" text-anchor="middle">777</text>
<text x="408.07" y="143.50" font-size="5.90" fill="#50a555" stroke="#50a555" stroke-width="0.15" text-anchor="middle">604</text>
<text x="424.39" y="143.50" font-size="5.90" fill="#50a555" stroke="#50a555" stroke-width="0.15" text-anchor="middle">450</text>
<text x="440.71" y="143.50" font-size="5.90" fill="#50a555" stroke="#50a555" stroke-width="0.15" text-anchor="middle">318</text>
<text x="457.03" y="143.50" font-size="5.90" fill="#50a555" stroke="#50a555" stroke-width="0.15" text-anchor="middle">208</text>
<text x="473.35" y="143.50" font-size="5.90" fill="#50a555" stroke="#50a555" stroke-width="0.15" text-anchor="middle">118</text>
<text x="489.27" y="143.50" font-size="5.90" fill="#50a555" stroke="#50a555" stroke-width="0.15" text-anchor="middle">39</text>
<text x="505.19" y="143.50" font-size="5.90" fill="#50a555" stroke="#50a555" stroke-width="0.15" text-anchor="middle">0</text>
<text x="295.80" y="151.50" font-size="6.00" fill="#c83a8a" stroke="#c83a8a" stroke-width="0.15" text-anchor="end" textLength="9.80" lengthAdjust="spacingAndGlyphs">80+</text>
<text x="310.15" y="151.50" font-size="5.90" fill="#c83a8a" stroke="#c83a8a" stroke-width="0.15" text-anchor="middle">1448</text>
<text x="326.47" y="151.50" font-size="5.90" fill="#c83a8a" stroke="#c83a8a" stroke-width="0.15" text-anchor="middle">942</text>
<text x="342.79" y="151.50" font-size="5.90" fill="#c83a8a" stroke="#c83a8a" stroke-width="0.15" text-anchor="middle">715</text>
<text x="359.11" y="151.50" font-size="5.90" fill="#c83a8a" stroke="#c83a8a" stroke-width="0.15" text-anchor="middle">551</text>
<text x="375.43" y="151.50" font-size="5.90" fill="#c83a8a" stroke="#c83a8a" stroke-width="0.15" text-anchor="middle">440</text>
<text x="391.75" y="151.50" font-size="5.90" fill="#c83a8a" stroke="#c83a8a" stroke-width="0.15" text-anchor="middle">343</text>
<text x="408.07" y="151.50" font-size="5.90" fill="#c83a8a" stroke="#c83a8a" stroke-width="0.15" text-anchor="middle">250</text>
<text x="424.39" y="151.50" font-size="5.90" fill="#c83a8a" stroke="#c83a8a" stroke-width="0.15" text-anchor="middle">158</text>
<text x="440.31" y="151.50" font-size="5.90" fill="#c83a8a" stroke="#c83a8a" stroke-width="0.15" text-anchor="middle">83</text>
<text x="456.63" y="151.50" font-size="5.90" fill="#c83a8a" stroke="#c83a8a" stroke-width="0.15" text-anchor="middle">57</text>
<text x="472.95" y="151.50" font-size="5.90" fill="#c83a8a" stroke="#c83a8a" stroke-width="0.15" text-anchor="middle">28</text>
<text x="488.87" y="151.50" font-size="5.90" fill="#c83a8a" stroke="#c83a8a" stroke-width="0.15" text-anchor="middle">6</text>
<text x="505.19" y="151.50" font-size="5.90" fill="#c83a8a" stroke="#c83a8a" stroke-width="0.15" text-anchor="middle">0</text>
<polygon points="309.50,40.50 317.00,44.00 320.00,47.00 320.00,56.00 317.10,54.50 313.40,48.10" fill="#9c8c9c" opacity="0.55"/>
<polygon points="465.00,101.50 478.00,102.60 488.00,104.40 500.50,105.00 500.50,110.50 488.00,109.50 478.00,105.40 465.00,101.50" fill="#c92b84" opacity="0.5"/>
<clipPath id="c5"><rect x="320.90" y="0" width="520" height="404"/></clipPath>
<path d="M309.50,40.50 C310.15,41.77 312.13,45.77 313.40,48.10 C314.67,50.43 315.85,52.62 317.10,54.50 C318.35,56.38 319.03,57.58 320.90,59.40 C322.77,61.22 325.17,63.45 328.30,65.40 C331.43,67.35 336.08,69.48 339.70,71.10 C343.32,72.72 346.22,74.02 350.00,75.10 C353.78,76.18 358.27,76.78 362.40,77.60 C366.53,78.42 370.68,79.08 374.80,80.00 C378.92,80.92 384.02,82.17 387.10,83.10 C390.18,84.03 389.48,84.67 393.30,85.60 C397.12,86.53 405.57,87.92 410.00,88.70 C414.43,89.48 417.02,89.65 419.90,90.30 C422.78,90.95 424.83,91.73 427.30,92.60 C429.77,93.47 430.98,94.52 434.70,95.50 C438.42,96.48 444.55,97.50 449.60,98.50 C454.65,99.50 460.58,100.60 465.00,101.50 C469.42,102.40 472.10,103.10 476.10,103.90 C480.10,104.70 484.98,105.77 489.00,106.30 C493.02,106.83 498.33,106.97 500.20,107.10" fill="none" stroke="#c92b84" stroke-width="1.00" stroke-linejoin="round"/>
<path d="M309.50,40.50 C310.15,41.77 312.13,45.77 313.40,48.10 C314.67,50.43 315.85,52.62 317.10,54.50 C318.35,56.38 319.03,57.58 320.90,59.40 C322.77,61.22 325.17,63.45 328.30,65.40 C331.43,67.35 336.08,69.48 339.70,71.10 C343.32,72.72 346.22,74.02 350.00,75.10 C353.78,76.18 358.27,76.78 362.40,77.60 C366.53,78.42 370.68,79.08 374.80,80.00 C378.92,80.92 384.02,82.17 387.10,83.10 C390.18,84.03 389.48,84.67 393.30,85.60 C397.12,86.53 405.57,87.92 410.00,88.70 C414.43,89.48 417.02,89.65 419.90,90.30 C422.78,90.95 424.83,91.73 427.30,92.60 C429.77,93.47 430.98,94.52 434.70,95.50 C438.42,96.48 444.55,97.50 449.60,98.50 C454.65,99.50 460.58,100.60 465.00,101.50 C469.42,102.40 472.10,103.10 476.10,103.90 C480.10,104.70 484.98,105.77 489.00,106.30 C493.02,106.83 498.33,106.97 500.20,107.10" fill="none" stroke="#c92b84" stroke-width="1.90" stroke-linejoin="round" clip-path="url(#c5)"/>
<polygon points="465.00,82.90 476.00,84.00 486.00,86.40 500.50,87.00 500.50,94.70 486.00,92.30 476.00,86.80 465.00,82.90" fill="#329a42" opacity="0.5"/>
<clipPath id="c6"><rect x="320.90" y="0" width="520" height="404"/></clipPath>
<path d="M309.50,40.50 C310.77,41.77 315.20,46.08 317.10,48.10 C319.00,50.12 319.03,50.87 320.90,52.60 C322.77,54.33 325.17,56.90 328.30,58.50 C331.43,60.10 336.08,61.18 339.70,62.20 C343.32,63.22 344.15,63.58 350.00,64.60 C355.85,65.62 367.58,67.17 374.80,68.30 C382.02,69.43 388.27,70.57 393.30,71.40 C398.33,72.23 400.57,72.62 405.00,73.30 C409.43,73.98 414.95,74.63 419.90,75.50 C424.85,76.37 429.75,77.63 434.70,78.50 C439.65,79.37 444.55,79.97 449.60,80.70 C454.65,81.43 460.58,82.12 465.00,82.90 C469.42,83.68 472.38,84.45 476.10,85.40 C479.82,86.35 483.28,87.67 487.30,88.60 C491.32,89.53 498.05,90.60 500.20,91.00" fill="none" stroke="#329a42" stroke-width="1.00" stroke-linejoin="round"/>
<path d="M309.50,40.50 C310.77,41.77 315.20,46.08 317.10,48.10 C319.00,50.12 319.03,50.87 320.90,52.60 C322.77,54.33 325.17,56.90 328.30,58.50 C331.43,60.10 336.08,61.18 339.70,62.20 C343.32,63.22 344.15,63.58 350.00,64.60 C355.85,65.62 367.58,67.17 374.80,68.30 C382.02,69.43 388.27,70.57 393.30,71.40 C398.33,72.23 400.57,72.62 405.00,73.30 C409.43,73.98 414.95,74.63 419.90,75.50 C424.85,76.37 429.75,77.63 434.70,78.50 C439.65,79.37 444.55,79.97 449.60,80.70 C454.65,81.43 460.58,82.12 465.00,82.90 C469.42,83.68 472.38,84.45 476.10,85.40 C479.82,86.35 483.28,87.67 487.30,88.60 C491.32,89.53 498.05,90.60 500.20,91.00" fill="none" stroke="#329a42" stroke-width="1.90" stroke-linejoin="round" clip-path="url(#c6)"/>
<polygon points="484.00,69.30 492.00,68.50 497.50,68.00 497.80,67.70 500.00,67.70 500.00,79.30 497.80,79.30 497.50,71.50 492.00,71.00 484.00,69.30" fill="#a8262c" opacity="0.5"/>
<clipPath id="c7"><rect x="320.90" y="0" width="520" height="404"/></clipPath>
<path d="M309.50,40.50 C310.15,41.03 311.50,42.30 313.40,43.70 C315.30,45.10 318.17,47.30 320.90,48.90 C323.63,50.50 326.67,52.15 329.80,53.30 C332.93,54.45 336.33,54.95 339.70,55.80 C343.07,56.65 344.15,57.55 350.00,58.40 C355.85,59.25 365.63,60.15 374.80,60.90 C383.97,61.65 395.02,62.13 405.00,62.90 C414.98,63.67 425.53,64.92 434.70,65.50 C443.87,66.08 451.77,65.77 460.00,66.40 C468.23,67.03 477.93,68.68 484.10,69.30 C490.27,69.92 494.58,69.43 497.00,70.10 C499.42,70.77 498.33,72.77 498.60,73.30" fill="none" stroke="#a8262c" stroke-width="1.00" stroke-linejoin="round"/>
<path d="M309.50,40.50 C310.15,41.03 311.50,42.30 313.40,43.70 C315.30,45.10 318.17,47.30 320.90,48.90 C323.63,50.50 326.67,52.15 329.80,53.30 C332.93,54.45 336.33,54.95 339.70,55.80 C343.07,56.65 344.15,57.55 350.00,58.40 C355.85,59.25 365.63,60.15 374.80,60.90 C383.97,61.65 395.02,62.13 405.00,62.90 C414.98,63.67 425.53,64.92 434.70,65.50 C443.87,66.08 451.77,65.77 460.00,66.40 C468.23,67.03 477.93,68.68 484.10,69.30 C490.27,69.92 494.58,69.43 497.00,70.10 C499.42,70.77 498.33,72.77 498.60,73.30" fill="none" stroke="#a8262c" stroke-width="1.90" stroke-linejoin="round" clip-path="url(#c7)"/>
<clipPath id="c8"><rect x="320.90" y="0" width="520" height="404"/></clipPath>
<path d="M309.50,40.50 C310.15,40.78 311.50,41.30 313.40,42.20 C315.30,43.10 318.17,44.70 320.90,45.90 C323.63,47.10 326.67,48.50 329.80,49.40 C332.93,50.30 336.33,50.73 339.70,51.30 C343.07,51.87 344.15,52.35 350.00,52.80 C355.85,53.25 365.63,53.68 374.80,54.00 C383.97,54.32 395.02,54.33 405.00,54.70 C414.98,55.07 425.53,55.85 434.70,56.20 C443.87,56.55 452.57,56.55 460.00,56.80 C467.43,57.05 472.60,57.50 479.30,57.70 C486.00,57.90 496.72,57.95 500.20,58.00" fill="none" stroke="#1d2858" stroke-width="1.00" stroke-linejoin="round"/>
<path d="M309.50,40.50 C310.15,40.78 311.50,41.30 313.40,42.20 C315.30,43.10 318.17,44.70 320.90,45.90 C323.63,47.10 326.67,48.50 329.80,49.40 C332.93,50.30 336.33,50.73 339.70,51.30 C343.07,51.87 344.15,52.35 350.00,52.80 C355.85,53.25 365.63,53.68 374.80,54.00 C383.97,54.32 395.02,54.33 405.00,54.70 C414.98,55.07 425.53,55.85 434.70,56.20 C443.87,56.55 452.57,56.55 460.00,56.80 C467.43,57.05 472.60,57.50 479.30,57.70 C486.00,57.90 496.72,57.95 500.20,58.00" fill="none" stroke="#1d2858" stroke-width="1.90" stroke-linejoin="round" clip-path="url(#c8)"/>
<text x="362.00" y="31.70" font-size="8.40" fill="#1a1a1a" textLength="91.40" lengthAdjust="spacingAndGlyphs">Log-Rank test <tspan font-style="italic">P</tspan> ≤ .0001</text>
<text x="302.60" y="192.70" font-size="7.00" fill="#333" stroke="#333" stroke-width="0.10" textLength="37.60" lengthAdjust="spacingAndGlyphs">Age category</text>
<line x1="346.60" y1="190.20" x2="364.20" y2="190.20" stroke="#1d2858" stroke-width="1"/>
<text x="367.40" y="192.70" font-size="7.00" fill="#333" stroke="#333" stroke-width="0.10" textLength="18.10" lengthAdjust="spacingAndGlyphs">18-60</text>
<line x1="391.60" y1="190.20" x2="408.40" y2="190.20" stroke="#a8262c" stroke-width="1"/>
<text x="411.50" y="192.70" font-size="7.00" fill="#333" stroke="#333" stroke-width="0.10" textLength="18.30" lengthAdjust="spacingAndGlyphs">60-69</text>
<line x1="436.30" y1="190.20" x2="453.90" y2="190.20" stroke="#329a42" stroke-width="1"/>
<text x="457.20" y="192.70" font-size="7.00" fill="#333" stroke="#333" stroke-width="0.10" textLength="16.40" lengthAdjust="spacingAndGlyphs">70-79</text>
<line x1="479.80" y1="190.20" x2="497.20" y2="190.20" stroke="#c92b84" stroke-width="1"/>
<text x="500.50" y="192.70" font-size="7.00" fill="#333" stroke="#333" stroke-width="0.10" textLength="12.00" lengthAdjust="spacingAndGlyphs">80+</text>
<text x="268.80" y="219.90" font-size="12.20" fill="#0a0a0a" font-weight="bold">D</text>
<line x1="302.60" y1="239.70" x2="302.60" y2="359.60" stroke="#1e1e1e" stroke-width="1.3"/>
<line x1="301.95" y1="359.60" x2="512.50" y2="359.60" stroke="#1e1e1e" stroke-width="1.7"/>
<line x1="299.30" y1="242.90" x2="302.60" y2="242.90" stroke="#1e1e1e" stroke-width="1.3"/>
<text x="296.10" y="245.23" font-size="6.50" fill="#2a2a2a" stroke="#2a2a2a" stroke-width="0.15" text-anchor="end">1.0</text>
<line x1="299.30" y1="250.66" x2="302.60" y2="250.66" stroke="#1e1e1e" stroke-width="1.3"/>
<text x="296.10" y="252.99" font-size="6.50" fill="#2a2a2a" stroke="#2a2a2a" stroke-width="0.15" text-anchor="end">0.9</text>
<line x1="299.30" y1="258.42" x2="302.60" y2="258.42" stroke="#1e1e1e" stroke-width="1.3"/>
<text x="296.10" y="260.75" font-size="6.50" fill="#2a2a2a" stroke="#2a2a2a" stroke-width="0.15" text-anchor="end">0.8</text>
<line x1="299.30" y1="266.18" x2="302.60" y2="266.18" stroke="#1e1e1e" stroke-width="1.3"/>
<text x="296.10" y="268.51" font-size="6.50" fill="#2a2a2a" stroke="#2a2a2a" stroke-width="0.15" text-anchor="end">0.7</text>
<line x1="299.30" y1="273.94" x2="302.60" y2="273.94" stroke="#1e1e1e" stroke-width="1.3"/>
<text x="296.10" y="276.27" font-size="6.50" fill="#2a2a2a" stroke="#2a2a2a" stroke-width="0.15" text-anchor="end">0.6</text>
<line x1="299.30" y1="281.70" x2="302.60" y2="281.70" stroke="#1e1e1e" stroke-width="1.3"/>
<text x="296.10" y="284.03" font-size="6.50" fill="#2a2a2a" stroke="#2a2a2a" stroke-width="0.15" text-anchor="end">0.5</text>
<line x1="299.30" y1="289.46" x2="302.60" y2="289.46" stroke="#1e1e1e" stroke-width="1.3"/>
<text x="296.10" y="291.79" font-size="6.50" fill="#2a2a2a" stroke="#2a2a2a" stroke-width="0.15" text-anchor="end">0.4</text>
<line x1="299.30" y1="297.22" x2="302.60" y2="297.22" stroke="#1e1e1e" stroke-width="1.3"/>
<text x="296.10" y="299.55" font-size="6.50" fill="#2a2a2a" stroke="#2a2a2a" stroke-width="0.15" text-anchor="end">0.3</text>
<line x1="299.30" y1="304.98" x2="302.60" y2="304.98" stroke="#1e1e1e" stroke-width="1.3"/>
<text x="296.10" y="307.31" font-size="6.50" fill="#2a2a2a" stroke="#2a2a2a" stroke-width="0.15" text-anchor="end">0.2</text>
<line x1="299.30" y1="312.74" x2="302.60" y2="312.74" stroke="#1e1e1e" stroke-width="1.3"/>
<text x="296.10" y="315.07" font-size="6.50" fill="#2a2a2a" stroke="#2a2a2a" stroke-width="0.15" text-anchor="end">0.1</text>
<line x1="299.30" y1="320.50" x2="302.60" y2="320.50" stroke="#1e1e1e" stroke-width="1.3"/>
<text x="296.10" y="322.83" font-size="6.50" fill="#2a2a2a" stroke="#2a2a2a" stroke-width="0.15" text-anchor="end">0.0</text>
<line x1="309.35" y1="359.60" x2="309.35" y2="362.80" stroke="#1e1e1e" stroke-width="1.2"/>
<text x="309.35" y="371.96" font-size="6.60" fill="#2a2a2a" stroke="#2a2a2a" stroke-width="0.15" text-anchor="middle">0</text>
<line x1="325.67" y1="359.60" x2="325.67" y2="362.80" stroke="#1e1e1e" stroke-width="1.2"/>
<text x="325.67" y="371.96" font-size="6.60" fill="#2a2a2a" stroke="#2a2a2a" stroke-width="0.15" text-anchor="middle">1</text>
<line x1="341.99" y1="359.60" x2="341.99" y2="362.80" stroke="#1e1e1e" stroke-width="1.2"/>
<text x="341.99" y="371.96" font-size="6.60" fill="#2a2a2a" stroke="#2a2a2a" stroke-width="0.15" text-anchor="middle">2</text>
<line x1="358.31" y1="359.60" x2="358.31" y2="362.80" stroke="#1e1e1e" stroke-width="1.2"/>
<text x="358.31" y="371.96" font-size="6.60" fill="#2a2a2a" stroke="#2a2a2a" stroke-width="0.15" text-anchor="middle">3</text>
<line x1="374.63" y1="359.60" x2="374.63" y2="362.80" stroke="#1e1e1e" stroke-width="1.2"/>
<text x="374.63" y="371.96" font-size="6.60" fill="#2a2a2a" stroke="#2a2a2a" stroke-width="0.15" text-anchor="middle">4</text>
<line x1="390.95" y1="359.60" x2="390.95" y2="362.80" stroke="#1e1e1e" stroke-width="1.2"/>
<text x="390.95" y="371.96" font-size="6.60" fill="#2a2a2a" stroke="#2a2a2a" stroke-width="0.15" text-anchor="middle">5</text>
<line x1="407.27" y1="359.60" x2="407.27" y2="362.80" stroke="#1e1e1e" stroke-width="1.2"/>
<text x="407.27" y="371.96" font-size="6.60" fill="#2a2a2a" stroke="#2a2a2a" stroke-width="0.15" text-anchor="middle">6</text>
<line x1="423.59" y1="359.60" x2="423.59" y2="362.80" stroke="#1e1e1e" stroke-width="1.2"/>
<text x="423.59" y="371.96" font-size="6.60" fill="#2a2a2a" stroke="#2a2a2a" stroke-width="0.15" text-anchor="middle">7</text>
<line x1="439.91" y1="359.60" x2="439.91" y2="362.80" stroke="#1e1e1e" stroke-width="1.2"/>
<text x="439.91" y="371.96" font-size="6.60" fill="#2a2a2a" stroke="#2a2a2a" stroke-width="0.15" text-anchor="middle">8</text>
<line x1="456.23" y1="359.60" x2="456.23" y2="362.80" stroke="#1e1e1e" stroke-width="1.2"/>
<text x="456.23" y="371.96" font-size="6.60" fill="#2a2a2a" stroke="#2a2a2a" stroke-width="0.15" text-anchor="middle">9</text>
<line x1="472.55" y1="359.60" x2="472.55" y2="362.80" stroke="#1e1e1e" stroke-width="1.2"/>
<text x="472.55" y="371.96" font-size="6.60" fill="#2a2a2a" stroke="#2a2a2a" stroke-width="0.15" text-anchor="middle">10</text>
<line x1="488.87" y1="359.60" x2="488.87" y2="362.80" stroke="#1e1e1e" stroke-width="1.2"/>
<text x="488.87" y="371.96" font-size="6.60" fill="#2a2a2a" stroke="#2a2a2a" stroke-width="0.15" text-anchor="middle">11</text>
<line x1="505.19" y1="359.60" x2="505.19" y2="362.80" stroke="#1e1e1e" stroke-width="1.2"/>
<text x="505.19" y="371.96" font-size="6.60" fill="#2a2a2a" stroke="#2a2a2a" stroke-width="0.15" text-anchor="middle">12</text>
<text x="365.90" y="384.60" font-size="9.10" fill="#222" font-weight="bold" textLength="83.40" lengthAdjust="spacingAndGlyphs">Years since first line treatment</text>
<text transform="translate(281.80,323.80) rotate(-90)" font-size="9.2" fill="#1a1a1a" stroke="#1a1a1a" stroke-width="0.3" textLength="85.20" lengthAdjust="spacingAndGlyphs">Relapse-free survival probability</text>
<text x="303.80" y="322.80" font-size="6.00" fill="#333" stroke="#333" stroke-width="0.10" textLength="60.80" lengthAdjust="spacingAndGlyphs">Number of patients at risk</text>
<text x="295.80" y="330.00" font-size="6.00" fill="#46699e" stroke="#46699e" stroke-width="0.15" text-anchor="end" textLength="13.20" lengthAdjust="spacingAndGlyphs">18-60</text>
<text x="310.15" y="330.00" font-size="5.90" fill="#46699e" stroke="#46699e" stroke-width="0.15" text-anchor="middle">2585</text>
<text x="326.47" y="330.00" font-size="5.90" fill="#46699e" stroke="#46699e" stroke-width="0.15" text-anchor="middle">2015</text>
<text x="342.79" y="330.00" font-size="5.90" fill="#46699e" stroke="#46699e" stroke-width="0.15" text-anchor="middle">1723</text>
<text x="359.11" y="330.00" font-size="5.90" fill="#46699e" stroke="#46699e" stroke-width="0.15" text-anchor="middle">1491</text>
<text x="375.43" y="330.00" font-size="5.90" fill="#46699e" stroke="#46699e" stroke-width="0.15" text-anchor="middle">1298</text>
<text x="391.75" y="330.00" font-size="5.90" fill="#46699e" stroke="#46699e" stroke-width="0.15" text-anchor="middle">1123</text>
<text x="408.07" y="330.00" font-size="5.90" fill="#46699e" stroke="#46699e" stroke-width="0.15" text-anchor="middle">945</text>
<text x="424.39" y="330.00" font-size="5.90" fill="#46699e" stroke="#46699e" stroke-width="0.15" text-anchor="middle">787</text>
<text x="440.71" y="330.00" font-size="5.90" fill="#46699e" stroke="#46699e" stroke-width="0.15" text-anchor="middle">597</text>
<text x="457.03" y="330.00" font-size="5.90" fill="#46699e" stroke="#46699e" stroke-width="0.15" text-anchor="middle">434</text>
<text x="473.35" y="330.00" font-size="5.90" fill="#46699e" stroke="#46699e" stroke-width="0.15" text-anchor="middle">261</text>
<text x="489.27" y="330.00" font-size="5.90" fill="#46699e" stroke="#46699e" stroke-width="0.15" text-anchor="middle">93</text>
<text x="505.19" y="330.00" font-size="5.90" fill="#46699e" stroke="#46699e" stroke-width="0.15" text-anchor="middle">0</text>
<text x="295.80" y="337.40" font-size="6.00" fill="#b93448" stroke="#b93448" stroke-width="0.15" text-anchor="end" textLength="13.20" lengthAdjust="spacingAndGlyphs">60-69</text>
<text x="310.15" y="337.40" font-size="5.90" fill="#b93448" stroke="#b93448" stroke-width="0.15" text-anchor="middle">2179</text>
<text x="326.47" y="337.40" font-size="5.90" fill="#b93448" stroke="#b93448" stroke-width="0.15" text-anchor="middle">1607</text>
<text x="342.79" y="337.40" font-size="5.90" fill="#b93448" stroke="#b93448" stroke-width="0.15" text-anchor="middle">1332</text>
<text x="359.11" y="337.40" font-size="5.90" fill="#b93448" stroke="#b93448" stroke-width="0.15" text-anchor="middle">1117</text>
<text x="375.43" y="337.40" font-size="5.90" fill="#b93448" stroke="#b93448" stroke-width="0.15" text-anchor="middle">928</text>
<text x="391.75" y="337.40" font-size="5.90" fill="#b93448" stroke="#b93448" stroke-width="0.15" text-anchor="middle">769</text>
<text x="408.07" y="337.40" font-size="5.90" fill="#b93448" stroke="#b93448" stroke-width="0.15" text-anchor="middle">618</text>
<text x="424.39" y="337.40" font-size="5.90" fill="#b93448" stroke="#b93448" stroke-width="0.15" text-anchor="middle">483</text>
<text x="440.71" y="337.40" font-size="5.90" fill="#b93448" stroke="#b93448" stroke-width="0.15" text-anchor="middle">360</text>
<text x="457.03" y="337.40" font-size="5.90" fill="#b93448" stroke="#b93448" stroke-width="0.15" text-anchor="middle">244</text>
<text x="473.35" y="337.40" font-size="5.90" fill="#b93448" stroke="#b93448" stroke-width="0.15" text-anchor="middle">142</text>
<text x="489.27" y="337.40" font-size="5.90" fill="#b93448" stroke="#b93448" stroke-width="0.15" text-anchor="middle">52</text>
<text x="505.19" y="337.40" font-size="5.90" fill="#b93448" stroke="#b93448" stroke-width="0.15" text-anchor="middle">0</text>
<text x="295.80" y="345.20" font-size="6.00" fill="#50a555" stroke="#50a555" stroke-width="0.15" text-anchor="end" textLength="13.20" lengthAdjust="spacingAndGlyphs">70-79</text>
<text x="310.15" y="345.20" font-size="5.90" fill="#50a555" stroke="#50a555" stroke-width="0.15" text-anchor="middle">2463</text>
<text x="326.47" y="345.20" font-size="5.90" fill="#50a555" stroke="#50a555" stroke-width="0.15" text-anchor="middle">1700</text>
<text x="342.79" y="345.20" font-size="5.90" fill="#50a555" stroke="#50a555" stroke-width="0.15" text-anchor="middle">1364</text>
<text x="359.11" y="345.20" font-size="5.90" fill="#50a555" stroke="#50a555" stroke-width="0.15" text-anchor="middle">1107</text>
<text x="375.43" y="345.20" font-size="5.90" fill="#50a555" stroke="#50a555" stroke-width="0.15" text-anchor="middle">890</text>
<text x="391.75" y="345.20" font-size="5.90" fill="#50a555" stroke="#50a555" stroke-width="0.15" text-anchor="middle">724</text>
<text x="408.07" y="345.20" font-size="5.90" fill="#50a555" stroke="#50a555" stroke-width="0.15" text-anchor="middle">567</text>
<text x="424.39" y="345.20" font-size="5.90" fill="#50a555" stroke="#50a555" stroke-width="0.15" text-anchor="middle">419</text>
<text x="440.71" y="345.20" font-size="5.90" fill="#50a555" stroke="#50a555" stroke-width="0.15" text-anchor="middle">299</text>
<text x="457.03" y="345.20" font-size="5.90" fill="#50a555" stroke="#50a555" stroke-width="0.15" text-anchor="middle">195</text>
<text x="473.35" y="345.20" font-size="5.90" fill="#50a555" stroke="#50a555" stroke-width="0.15" text-anchor="middle">110</text>
<text x="489.27" y="345.20" font-size="5.90" fill="#50a555" stroke="#50a555" stroke-width="0.15" text-anchor="middle">36</text>
<text x="505.19" y="345.20" font-size="5.90" fill="#50a555" stroke="#50a555" stroke-width="0.15" text-anchor="middle">0</text>
<text x="295.80" y="353.20" font-size="6.00" fill="#c83a8a" stroke="#c83a8a" stroke-width="0.15" text-anchor="end" textLength="9.80" lengthAdjust="spacingAndGlyphs">80+</text>
<text x="310.15" y="353.20" font-size="5.90" fill="#c83a8a" stroke="#c83a8a" stroke-width="0.15" text-anchor="middle">1448</text>
<text x="326.47" y="353.20" font-size="5.90" fill="#c83a8a" stroke="#c83a8a" stroke-width="0.15" text-anchor="middle">887</text>
<text x="342.79" y="353.20" font-size="5.90" fill="#c83a8a" stroke="#c83a8a" stroke-width="0.15" text-anchor="middle">662</text>
<text x="359.11" y="353.20" font-size="5.90" fill="#c83a8a" stroke="#c83a8a" stroke-width="0.15" text-anchor="middle">516</text>
<text x="375.43" y="353.20" font-size="5.90" fill="#c83a8a" stroke="#c83a8a" stroke-width="0.15" text-anchor="middle">409</text>
<text x="391.75" y="353.20" font-size="5.90" fill="#c83a8a" stroke="#c83a8a" stroke-width="0.15" text-anchor="middle">319</text>
<text x="408.07" y="353.20" font-size="5.90" fill="#c83a8a" stroke="#c83a8a" stroke-width="0.15" text-anchor="middle">232</text>
<text x="424.39" y="353.20" font-size="5.90" fill="#c83a8a" stroke="#c83a8a" stroke-width="0.15" text-anchor="middle">148</text>
<text x="440.31" y="353.20" font-size="5.90" fill="#c83a8a" stroke="#c83a8a" stroke-width="0.15" text-anchor="middle">77</text>
<text x="456.63" y="353.20" font-size="5.90" fill="#c83a8a" stroke="#c83a8a" stroke-width="0.15" text-anchor="middle">52</text>
<text x="472.95" y="353.20" font-size="5.90" fill="#c83a8a" stroke="#c83a8a" stroke-width="0.15" text-anchor="middle">26</text>
<text x="488.87" y="353.20" font-size="5.90" fill="#c83a8a" stroke="#c83a8a" stroke-width="0.15" text-anchor="middle">6</text>
<text x="505.19" y="353.20" font-size="5.90" fill="#c83a8a" stroke="#c83a8a" stroke-width="0.15" text-anchor="middle">0</text>
<polygon points="309.60,243.60 316.00,249.50 321.00,254.50 321.00,259.50 319.00,262.00 316.50,256.00" fill="#9c8c9c" opacity="0.55"/>
<polygon points="465.00,305.50 480.00,307.50 488.00,308.30 500.50,308.80 500.50,313.90 488.00,312.60 480.00,310.50 465.00,305.50" fill="#c92b84" opacity="0.5"/>
<clipPath id="c9"><rect x="323.80" y="0" width="520" height="404"/></clipPath>
<path d="M309.60,243.60 C310.75,245.67 314.13,251.77 316.50,256.00 C318.87,260.23 321.58,265.95 323.80,269.00 C326.02,272.05 326.75,272.70 329.80,274.30 C332.85,275.90 338.73,277.57 342.10,278.60 C345.47,279.63 346.62,279.88 350.00,280.50 C353.38,281.12 358.27,281.48 362.40,282.30 C366.53,283.12 370.68,284.47 374.80,285.40 C378.92,286.33 384.02,287.07 387.10,287.90 C390.18,288.73 389.48,289.58 393.30,290.40 C397.12,291.22 405.57,292.02 410.00,292.80 C414.43,293.58 415.78,293.97 419.90,295.10 C424.02,296.23 429.75,298.37 434.70,299.60 C439.65,300.83 444.55,301.52 449.60,302.50 C454.65,303.48 460.58,304.70 465.00,305.50 C469.42,306.30 472.12,306.60 476.10,307.30 C480.08,308.00 484.88,309.08 488.90,309.70 C492.92,310.32 498.32,310.78 500.20,311.00" fill="none" stroke="#c92b84" stroke-width="1.00" stroke-linejoin="round"/>
<path d="M309.60,243.60 C310.75,245.67 314.13,251.77 316.50,256.00 C318.87,260.23 321.58,265.95 323.80,269.00 C326.02,272.05 326.75,272.70 329.80,274.30 C332.85,275.90 338.73,277.57 342.10,278.60 C345.47,279.63 346.62,279.88 350.00,280.50 C353.38,281.12 358.27,281.48 362.40,282.30 C366.53,283.12 370.68,284.47 374.80,285.40 C378.92,286.33 384.02,287.07 387.10,287.90 C390.18,288.73 389.48,289.58 393.30,290.40 C397.12,291.22 405.57,292.02 410.00,292.80 C414.43,293.58 415.78,293.97 419.90,295.10 C424.02,296.23 429.75,298.37 434.70,299.60 C439.65,300.83 444.55,301.52 449.60,302.50 C454.65,303.48 460.58,304.70 465.00,305.50 C469.42,306.30 472.12,306.60 476.10,307.30 C480.08,308.00 484.88,309.08 488.90,309.70 C492.92,310.32 498.32,310.78 500.20,311.00" fill="none" stroke="#c92b84" stroke-width="1.90" stroke-linejoin="round" clip-path="url(#c9)"/>
<polygon points="460.00,287.20 475.00,288.50 485.00,291.40 495.00,292.50 500.50,293.30 500.50,303.60 495.00,300.00 485.00,295.20 475.00,292.50 460.00,287.20" fill="#329a42" opacity="0.5"/>
<clipPath id="c10"><rect x="320.00" y="0" width="520" height="404"/></clipPath>
<path d="M309.60,243.60 C310.50,244.83 313.27,248.68 315.00,251.00 C316.73,253.32 318.03,255.37 320.00,257.50 C321.97,259.63 324.15,261.93 326.80,263.80 C329.45,265.67 332.03,267.40 335.90,268.70 C339.77,270.00 343.52,270.57 350.00,271.60 C356.48,272.63 365.63,273.58 374.80,274.90 C383.97,276.22 397.48,278.37 405.00,279.50 C412.52,280.63 414.95,280.88 419.90,281.70 C424.85,282.52 429.75,283.65 434.70,284.40 C439.65,285.15 444.55,285.45 449.60,286.20 C454.65,286.95 460.58,288.20 465.00,288.90 C469.42,289.60 472.12,289.48 476.10,290.40 C480.08,291.32 484.88,293.07 488.90,294.40 C492.92,295.73 498.32,297.73 500.20,298.40" fill="none" stroke="#329a42" stroke-width="1.00" stroke-linejoin="round"/>
<path d="M309.60,243.60 C310.50,244.83 313.27,248.68 315.00,251.00 C316.73,253.32 318.03,255.37 320.00,257.50 C321.97,259.63 324.15,261.93 326.80,263.80 C329.45,265.67 332.03,267.40 335.90,268.70 C339.77,270.00 343.52,270.57 350.00,271.60 C356.48,272.63 365.63,273.58 374.80,274.90 C383.97,276.22 397.48,278.37 405.00,279.50 C412.52,280.63 414.95,280.88 419.90,281.70 C424.85,282.52 429.75,283.65 434.70,284.40 C439.65,285.15 444.55,285.45 449.60,286.20 C454.65,286.95 460.58,288.20 465.00,288.90 C469.42,289.60 472.12,289.48 476.10,290.40 C480.08,291.32 484.88,293.07 488.90,294.40 C492.92,295.73 498.32,297.73 500.20,298.40" fill="none" stroke="#329a42" stroke-width="1.90" stroke-linejoin="round" clip-path="url(#c10)"/>
<polygon points="484.00,277.50 492.00,276.50 497.50,275.90 497.80,275.90 500.00,275.90 500.00,286.90 497.80,286.90 497.50,280.00 492.00,279.50 484.00,277.50" fill="#a8262c" opacity="0.5"/>
<clipPath id="c11"><rect x="321.00" y="0" width="520" height="404"/></clipPath>
<path d="M309.60,243.60 C310.67,244.67 314.10,248.02 316.00,250.00 C317.90,251.98 319.20,253.70 321.00,255.50 C322.80,257.30 324.32,259.42 326.80,260.80 C329.28,262.18 332.03,262.90 335.90,263.80 C339.77,264.70 343.52,265.38 350.00,266.20 C356.48,267.02 365.63,267.72 374.80,268.70 C383.97,269.68 395.02,271.17 405.00,272.10 C414.98,273.03 425.53,273.80 434.70,274.30 C443.87,274.80 451.77,274.57 460.00,275.10 C468.23,275.63 477.80,276.97 484.10,277.50 C490.40,278.03 495.25,277.77 497.80,278.30 C500.35,278.83 499.13,280.30 499.40,280.70" fill="none" stroke="#a8262c" stroke-width="1.00" stroke-linejoin="round"/>
<path d="M309.60,243.60 C310.67,244.67 314.10,248.02 316.00,250.00 C317.90,251.98 319.20,253.70 321.00,255.50 C322.80,257.30 324.32,259.42 326.80,260.80 C329.28,262.18 332.03,262.90 335.90,263.80 C339.77,264.70 343.52,265.38 350.00,266.20 C356.48,267.02 365.63,267.72 374.80,268.70 C383.97,269.68 395.02,271.17 405.00,272.10 C414.98,273.03 425.53,273.80 434.70,274.30 C443.87,274.80 451.77,274.57 460.00,275.10 C468.23,275.63 477.80,276.97 484.10,277.50 C490.40,278.03 495.25,277.77 497.80,278.30 C500.35,278.83 499.13,280.30 499.40,280.70" fill="none" stroke="#a8262c" stroke-width="1.90" stroke-linejoin="round" clip-path="url(#c11)"/>
<clipPath id="c12"><rect x="321.00" y="0" width="520" height="404"/></clipPath>
<path d="M309.60,243.60 C310.67,244.58 314.10,247.68 316.00,249.50 C317.90,251.32 319.33,253.12 321.00,254.50 C322.67,255.88 323.52,256.77 326.00,257.80 C328.48,258.83 331.90,260.02 335.90,260.70 C339.90,261.38 343.52,261.53 350.00,261.90 C356.48,262.27 365.63,262.43 374.80,262.90 C383.97,263.37 395.02,264.23 405.00,264.70 C414.98,265.17 425.53,265.43 434.70,265.70 C443.87,265.97 452.57,266.07 460.00,266.30 C467.43,266.53 472.60,266.97 479.30,267.10 C486.00,267.23 496.72,267.10 500.20,267.10" fill="none" stroke="#1d2858" stroke-width="1.00" stroke-linejoin="round"/>
<path d="M309.60,243.60 C310.67,244.58 314.10,247.68 316.00,249.50 C317.90,251.32 319.33,253.12 321.00,254.50 C322.67,255.88 323.52,256.77 326.00,257.80 C328.48,258.83 331.90,260.02 335.90,260.70 C339.90,261.38 343.52,261.53 350.00,261.90 C356.48,262.27 365.63,262.43 374.80,262.90 C383.97,263.37 395.02,264.23 405.00,264.70 C414.98,265.17 425.53,265.43 434.70,265.70 C443.87,265.97 452.57,266.07 460.00,266.30 C467.43,266.53 472.60,266.97 479.30,267.10 C486.00,267.23 496.72,267.10 500.20,267.10" fill="none" stroke="#1d2858" stroke-width="1.90" stroke-linejoin="round" clip-path="url(#c12)"/>
<text x="362.00" y="234.70" font-size="8.40" fill="#1a1a1a" textLength="91.40" lengthAdjust="spacingAndGlyphs">Log-Rank test <tspan font-style="italic">P</tspan> ≤ .0001</text>
<text x="302.60" y="395.70" font-size="7.00" fill="#333" stroke="#333" stroke-width="0.10" textLength="37.60" lengthAdjust="spacingAndGlyphs">Age category</text>
<line x1="346.60" y1="393.20" x2="364.20" y2="393.20" stroke="#1d2858" stroke-width="1"/>
<text x="367.40" y="395.70" font-size="7.00" fill="#333" stroke="#333" stroke-width="0.10" textLength="18.10" lengthAdjust="spacingAndGlyphs">18-60</text>
<line x1="391.60" y1="393.20" x2="408.40" y2="393.20" stroke="#a8262c" stroke-width="1"/>
<text x="411.50" y="395.70" font-size="7.00" fill="#333" stroke="#333" stroke-width="0.10" textLength="18.30" lengthAdjust="spacingAndGlyphs">60-69</text>
<line x1="436.30" y1="393.20" x2="453.90" y2="393.20" stroke="#329a42" stroke-width="1"/>
<text x="457.20" y="395.70" font-size="7.00" fill="#333" stroke="#333" stroke-width="0.10" textLength="16.40" lengthAdjust="spacingAndGlyphs">70-79</text>
<line x1="479.80" y1="393.20" x2="497.20" y2="393.20" stroke="#c92b84" stroke-width="1"/>
<text x="500.50" y="395.70" font-size="7.00" fill="#333" stroke="#333" stroke-width="0.10" textLength="12.00" lengthAdjust="spacingAndGlyphs">80+</text>
<rect x="0.5" y="0.5" width="519" height="403" fill="none" stroke="#4a4a4a" stroke-width="1"/>
</svg></body></html>
